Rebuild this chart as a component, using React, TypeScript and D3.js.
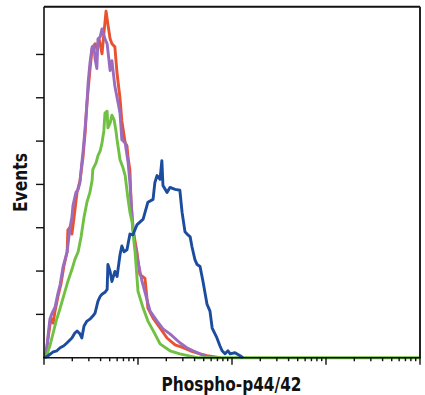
import React from "react";
import * as d3 from "d3";

// Flow-cytometry histograms: x = channel (0..1024 spans 4 log decades), y = events
const purpleSeries: [number, number][] = [
  [2.7, 0], [8, 4.1], [11, 10.1], [16, 17.8], [22, 20.6], [30, 23.3], [38, 29.7], [44, 33.8],
  [52, 42.1], [63, 48.9], [71, 60.3], [76, 64.9], [79, 70.4], [87, 76.3], [93, 77.7], [98, 80.9],
  [103, 90.1], [106, 94.6], [112, 106.1], [117, 117.5], [120, 126.6], [125, 135.8], [131, 143.5],
  [136, 144], [139, 138], [144, 133.5], [147, 147.2], [153, 148.1], [158, 151.8], [166, 147.2],
  [172, 144.9], [180, 132.6], [185, 137.1], [193, 125.3], [202, 117.5], [207, 112.9], [212, 100.6],
  [221, 99.2], [229, 90.1], [234, 80.9], [240, 64.9], [248, 51.2], [256, 44.3], [267, 35.2],
  [278, 28.3], [289, 21.5], [308, 16.9], [324, 13.3], [343, 11.0], [370, 6.9], [389, 4.6],
  [406, 3.2], [425, 1.8], [444, 0.5], [466, 0],
];

const redSeries: [number, number][] = [
  [2.7, 0], [8, 5.5], [14, 12.3], [19, 18.3], [25, 16.0], [30, 21.5], [38, 28.3], [46, 33.8],
  [54, 42.1], [63, 48.9], [65, 59.0], [74, 60.8], [76, 57.1], [82, 64.9], [90, 76.3], [98, 81.8],
  [106, 92.3], [112, 103.8], [117, 117.5], [125, 132.6], [131, 142.6], [139, 144.9], [144, 142.6],
  [150, 147.2], [158, 140.3], [163, 149.5], [169, 160], [174, 154], [180, 147.2], [185, 144.9],
  [193, 143.5], [199, 131.2], [207, 119.8], [212, 109.3], [221, 99.2], [226, 97.8], [229, 92.3],
  [234, 86.5], [237, 72.5], [242, 59.4], [253, 48.9], [261, 38.4], [275, 36.6], [283, 22.9],
  [297, 18.3], [316, 13.7], [335, 9.1], [357, 5.9], [379, 4.6], [398, 3.2], [425, 1.8],
  [444, 0.9], [479, 0],
];

const greenSeries: [number, number][] = [
  [2.7, 0], [8, 1.4], [16, 5.5], [25, 11.4], [33, 16.9], [44, 22.9], [54, 28.8], [65, 35.2],
  [76, 40.7], [84, 45.3], [93, 48.9], [101, 55.8], [109, 64.9], [117, 71.8], [125, 76.3],
  [131, 81.8], [133, 86.9], [142, 90.1], [147, 93.3], [153, 95.5], [158, 99.2], [163, 104.7],
  [166, 112.9], [172, 113.8], [174, 106.1], [180, 108.3], [185, 112], [191, 109.7], [196, 104.7],
  [199, 100.6], [207, 91.4], [215, 87.8], [221, 84.1], [229, 73.1], [234, 67.2], [240, 62.6],
  [245, 53.5], [248, 48.9], [256, 30.6], [270, 22.9], [283, 16.9], [302, 11.0], [316, 6.4],
  [343, 3.2], [370, 1.8], [417, 0], [1024, 0],
];

const blueSeries: [number, number][] = [
  [2.7, 0], [11, 0.9], [25, 2.7], [35, 3.2], [44, 4.6], [54, 5.5], [63, 6.9], [76, 9.1],
  [84, 11.4], [90, 12.3], [98, 11.0], [103, 9.1], [109, 14.6], [117, 16.9], [125, 17.8],
  [133, 19.2], [139, 20.6], [147, 26.1], [153, 28.3], [158, 29.3], [166, 30.2], [172, 31.5],
  [174, 43], [180, 39.8], [185, 35.2], [193, 39.8], [199, 37.5], [207, 47.5], [212, 51.6],
  [218, 48.9], [226, 49.8], [234, 57.1], [242, 56.7], [253, 61.3], [270, 64], [283, 71.8],
  [297, 73.1], [302, 80.9], [308, 84.1], [316, 82.3], [321, 91], [324, 79.5], [335, 76.3],
  [343, 78.6], [357, 77.7], [370, 77.3], [376, 67.2], [384, 58.1], [392, 56.7], [398, 55.8],
  [403, 51.2], [411, 45.3], [417, 43], [425, 42.1], [433, 35.2], [444, 24.7], [452, 21.5],
  [458, 13.7], [471, 9.1], [479, 5.5], [485, 3.2], [493, 1.8], [501, 3.2], [507, 1.8],
  [520, 2.3], [534, 0.9], [542, 0],
];

const seriesList = [
  { name: "red", data: redSeries, color: "#e8522e" },
  { name: "purple", data: purpleSeries, color: "#9a6cc0" },
  { name: "green", data: greenSeries, color: "#6fc043" },
  { name: "blue", data: blueSeries, color: "#1c4c9e" },
];

const yTickValues = [20, 40, 60, 80, 100, 120, 140];
const xLabel = "Phospho-p44/42";
const yLabel = "Events";

export default function App() {
  const left = 44, right = 420, top = 6.8, bottom = 357.7;
  const x = d3.scaleLinear().domain([0, 1024]).range([left, right]);
  const xLog = d3.scaleLog().domain([1, 10000]).range([left, right]);
  const y = d3.scaleLinear().domain([0, 162]).range([bottom, top]);
  const line = d3
    .line<[number, number]>()
    .x((d) => x(d[0]))
    .y((d) => y(d[1]))
    .curve(d3.curveLinear);

  const logTicks = xLog.ticks();
  const font = "'Liberation Sans Narrow', 'Arial Narrow', 'DejaVu Sans Condensed', sans-serif";

  return (
    <svg
      width={425}
      height={395}
      style={{ position: "absolute", left: 0, top: 0, background: "#fff" }}
    >
      <rect x={0} y={0} width={425} height={395} fill="#fff" />
      {seriesList.map((s) => (
        <path
          key={s.name}
          d={line(s.data) || ""}
          fill="none"
          stroke={s.color}
          strokeWidth={2.9}
          strokeLinejoin="round"
        />
      ))}
      {/* frame */}
      <line x1={left} x2={right} y1={top} y2={top} stroke="#111" strokeWidth={2} />
      <line x1={right} x2={right} y1={top} y2={bottom} stroke="#222" strokeWidth={2} />
      <line x1={left} x2={left} y1={top} y2={bottom} stroke="#111" strokeWidth={1.6} />
      <line x1={left - 1} x2={right + 1} y1={bottom} y2={bottom} stroke="#111" strokeWidth={1.6} />
      {/* y ticks */}
      {yTickValues.map((v) => (
        <line key={v} x1={left - 8} x2={left} y1={y(v)} y2={y(v)} stroke="#111" strokeWidth={1.4} />
      ))}
      {/* x log ticks */}
      {logTicks.map((v, i) => {
        const major = Math.abs(Math.log10(v) - Math.round(Math.log10(v))) < 1e-9;
        return (
          <line
            key={i}
            x1={xLog(v)}
            x2={xLog(v)}
            y1={bottom}
            y2={bottom + (major ? 7 : 3.5)}
            stroke="#111"
            strokeWidth={1.4}
          />
        );
      })}
      <text
        x={(left + right) / 2 - 0.5}
        y={390.5}
        textAnchor="middle"
        fontFamily={font}
        fontWeight="bold"
        fontSize={19}
        textLength={140}
        lengthAdjust="spacingAndGlyphs"
        fill="#111"
      >
        {xLabel}
      </text>
      <text
        transform={`translate(27,182.5) rotate(-90)`}
        textAnchor="middle"
        fontFamily={font}
        fontWeight="bold"
        fontSize={19}
        textLength={59}
        lengthAdjust="spacingAndGlyphs"
        fill="#111"
      >
        {yLabel}
      </text>
    </svg>
  );
}
